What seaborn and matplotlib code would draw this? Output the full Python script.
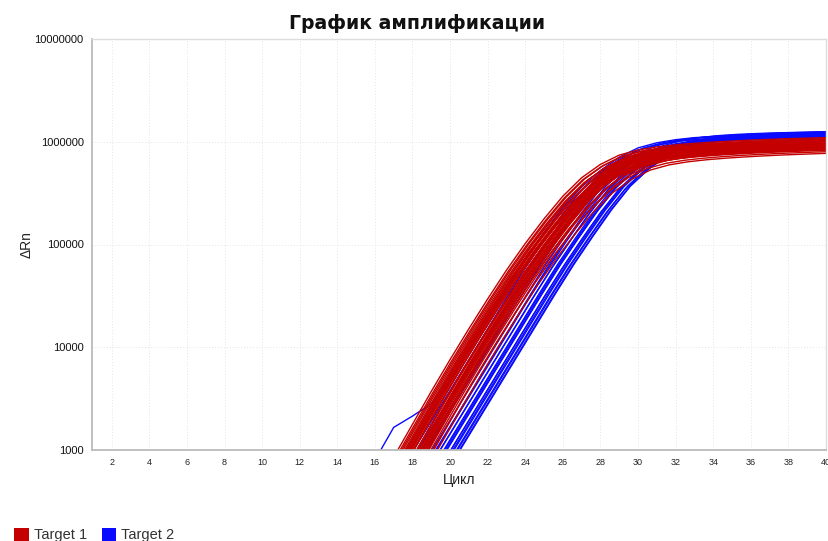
import numpy as np
import pandas as pd
import matplotlib
matplotlib.use("Agg")
import matplotlib.pyplot as plt
import matplotlib.ticker as mticker
from matplotlib.patches import Patch
import seaborn as sns

# ---------------- data ----------------
base_cycles = list(range(14, 41))

# log10(ΔRn) of the earliest Target 1 curve (leading edge of the red band)
red_base_log = [1.98, 2.30, 2.61, 2.93, 3.25, 3.57, 3.88, 4.18, 4.47, 4.75,
                5.01, 5.25, 5.47, 5.65, 5.78, 5.87, 5.92, 5.95, 5.97, 5.985,
                5.997, 6.007, 6.016, 6.023, 6.03, 6.035, 6.04]

# log10(ΔRn) of the earliest Target 2 curve
blue_base_log = [1.80, 2.10, 2.40, 2.70, 3.00, 3.30, 3.60, 3.90, 4.20, 4.50,
                 4.79, 5.06, 5.32, 5.55, 5.72, 5.85, 5.94, 5.99, 6.02, 6.04,
                 6.052, 6.06, 6.066, 6.071, 6.075, 6.079, 6.083]

# one Target 2 well with an early bump near the threshold
blue_odd_log = [2.30, 2.55, 2.90, 3.22, 3.33, 3.45, 3.68, 3.96, 4.26, 4.56,
                4.85, 5.12, 5.36, 5.56, 5.72, 5.85, 5.94, 5.99, 6.02, 6.04,
                6.05, 6.058, 6.064, 6.07, 6.074, 6.078, 6.082]

# per-well cycle delay and plateau offset (log10) relative to the base curve
red_shift = [0.00, 0.06, 0.12, 0.17, 0.22, 0.27, 0.32, 0.36, 0.40, 0.44,
             0.48, 0.52, 0.55, 0.59, 0.62, 0.66, 0.69, 0.72, 0.76, 0.79,
             0.82, 0.85, 0.89, 0.92, 0.95, 0.99, 1.02, 1.06, 1.10, 1.14,
             1.18, 1.22, 1.27, 1.32, 1.37, 1.42, 1.48, 1.54, 1.60, 1.66]
red_plateau = [0.00, -0.02, -0.05, -0.01, -0.08, -0.03, -0.06, -0.02, -0.10, -0.04,
               -0.07, -0.03, -0.09, -0.05, -0.01, -0.06, -0.11, -0.04, -0.08, -0.02,
               -0.07, -0.05, -0.12, -0.03, -0.09, -0.06, -0.04, -0.10, -0.07, -0.05,
               -0.08, -0.03, -0.11, -0.06, -0.09, -0.04, -0.13, -0.07, -0.10, -0.145]

blue_shift = [0.00, 0.30, 0.55, 0.80, 1.00, 1.15, 1.30, 1.40, 1.48, 1.62,
              1.70, 1.76, 1.90, 1.98, 2.04, 2.18, 2.26, 2.31, 2.46, 2.53, 2.60]
blue_plateau = [-0.02, 0.00, -0.03, 0.01, -0.01, -0.04, 0.02, -0.02, 0.00, -0.03,
                0.01, -0.01, 0.02, -0.02, 0.00, 0.01, 0.015, -0.01, 0.02, 0.01, 0.02]

y_ticks = [1000, 10000, 100000, 1000000, 10000000]
x_ticks = list(range(2, 41, 2))
labels = {"Target 1": "Target 1", "Target 2": "Target 2"}
colors = {"Target 1": "#c40000", "Target 2": "#0a0aff"}

# ---------------- build long table ----------------
rows = []
well = 0
for dx, dy in zip(blue_shift, blue_plateau):
    for c, v in zip(base_cycles, blue_base_log):
        rows.append(("Target 2", well, c + dx, 10 ** (v + dy)))
    well += 1
for c, v in zip(base_cycles, blue_odd_log):
    rows.append(("Target 2", well, c, 10 ** v))
well += 1
for dx, dy in zip(red_shift, red_plateau):
    for c, v in zip(base_cycles, red_base_log):
        rows.append(("Target 1", well, c + dx, 10 ** (v + dy)))
    well += 1
df = pd.DataFrame(rows, columns=["target", "well", "cycle", "drn"])

# ---------------- plot ----------------
sns.set_theme(style="white")
plt.rcParams["font.family"] = ["Liberation Sans", "DejaVu Sans"]

fig = plt.figure(figsize=(8.29, 5.41), dpi=100)
ax = fig.add_axes([92 / 829, 1 - 450 / 541, (826 - 92) / 829, (450 - 39) / 541])

sns.lineplot(data=df, x="cycle", y="drn", hue="target", units="well",
             estimator=None, sort=False, hue_order=["Target 2", "Target 1"],
             palette=colors, linewidth=1.0, legend=False, ax=ax)

ax.set_yscale("log")
ax.set_ylim(1000, 1e7)
ax.set_xlim(0.95, 40)
ax.set_xticks(x_ticks)
ax.set_yticks(y_ticks)
ax.yaxis.set_major_formatter(mticker.FuncFormatter(lambda v, p: f"{int(round(v))}"))
ax.yaxis.set_minor_locator(mticker.NullLocator())
ax.tick_params(axis="x", labelsize=6.5, colors="#bbbbbb", labelcolor="#222222",
               length=3, width=0.8, direction="out", pad=3)
ax.tick_params(axis="y", labelsize=8, colors="#bbbbbb", labelcolor="#111111",
               length=4, width=0.8, direction="out", pad=2)
ax.grid(True, which="major", linestyle=(0, (1, 2)), color="#e4e4e4", linewidth=0.7)
for s in ["left", "bottom"]:
    ax.spines[s].set_color("#bbbbbb")
    ax.spines[s].set_linewidth(1.3)
for s in ["top", "right"]:
    ax.spines[s].set_color("#dddddd")
    ax.spines[s].set_linewidth(1.0)

ax.set_xlabel("Цикл", fontsize=10, color="#222222", labelpad=4)
ax.set_ylabel("ΔRn", fontsize=10, color="#222222")
ax.yaxis.set_label_coords(-0.08, 0.5)

fig.text(0.503, 0.956, "График амплификации", ha="center", va="center",
         fontsize=13.6, fontweight="bold", family="DejaVu Sans", color="#111111")

handles = [Patch(facecolor=colors["Target 1"], edgecolor="none"),
           Patch(facecolor=colors["Target 2"], edgecolor="none")]
fig.legend(handles, [labels["Target 1"], labels["Target 2"]], loc="center left",
           bbox_to_anchor=(0.01, 0.011), frameon=False, ncol=2, fontsize=10.5,
           handlelength=1.0, handleheight=1.0, handletextpad=0.35,
           columnspacing=1.0, labelcolor="#333333", borderaxespad=0)

fig.savefig("out.png", dpi=100)
